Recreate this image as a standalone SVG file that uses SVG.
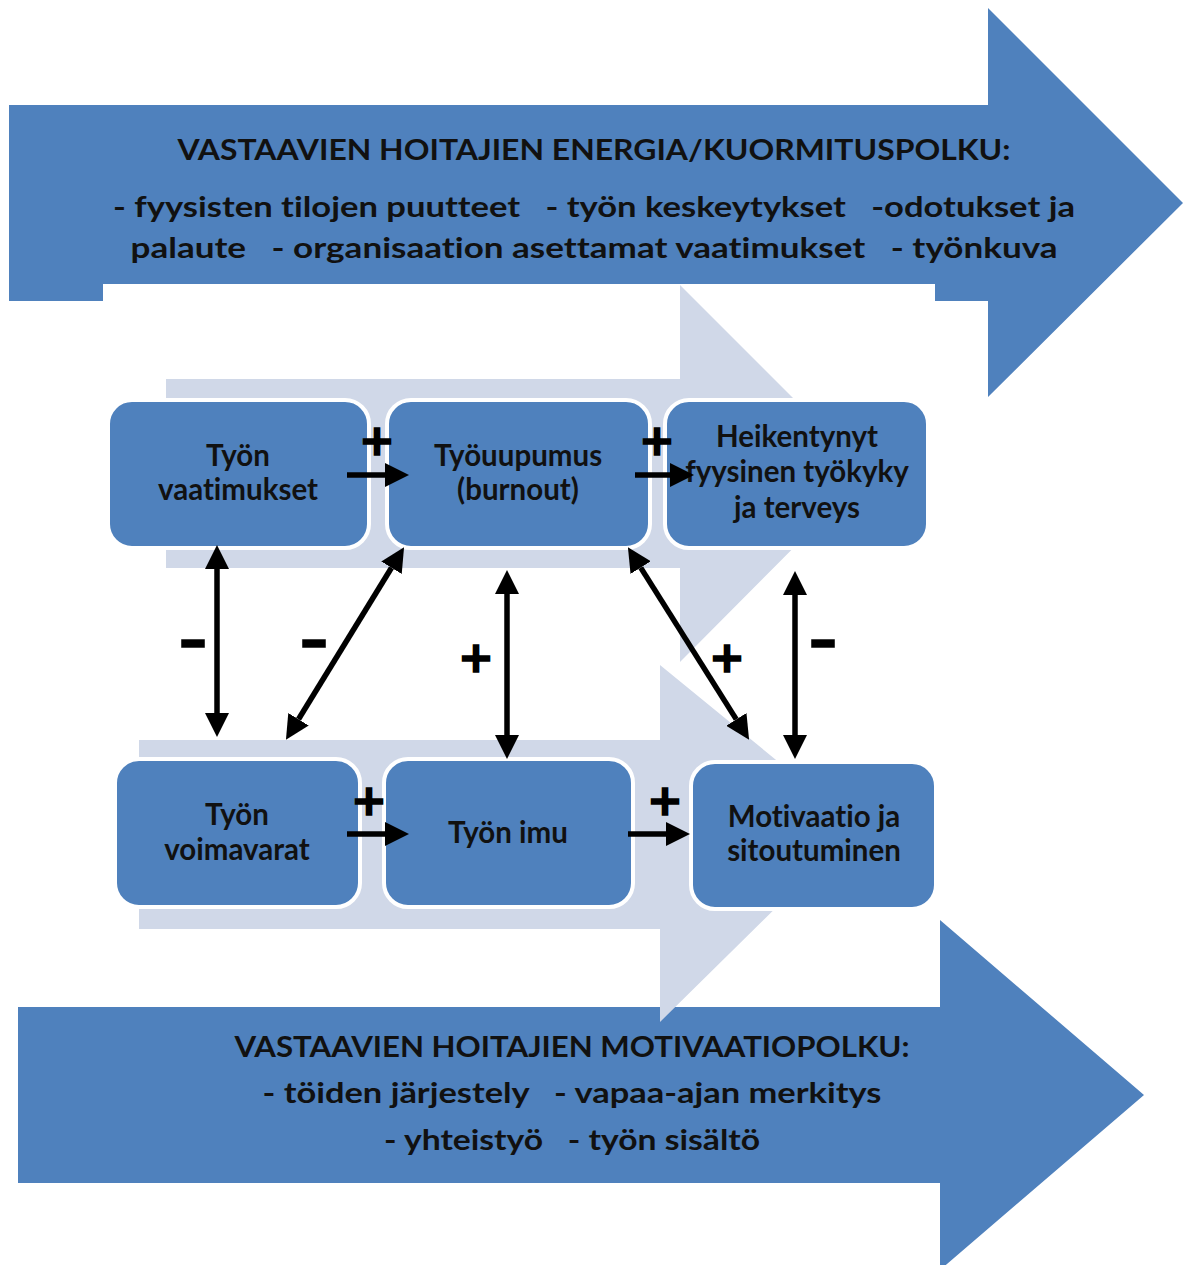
<svg xmlns="http://www.w3.org/2000/svg" width="1190" height="1265" viewBox="0 0 1190 1265">
<style>
.big{fill:#4F81BD}
.light{fill:#D0D8E8}
.node rect{fill:#4F81BD;stroke:#FFFFFF;stroke-width:4}
text{font-family:Lato,"Liberation Sans",sans-serif;font-weight:bold;fill:#111111;text-anchor:middle;white-space:pre;font-variant-ligatures:none}
.t{font-size:29px}
.n{font-size:29.5px}
.sign{font-family:"DejaVu Sans",sans-serif;fill:#000;stroke:#000;stroke-width:1.6}
.plus{font-size:43px}
.minus{font-size:56px}
.conn line{stroke:#000;stroke-width:5.5}
</style>
<defs>
<marker id="ah" markerUnits="userSpaceOnUse" markerWidth="24" markerHeight="24" refX="0" refY="12" orient="auto-start-reverse" viewBox="0 0 24 24">
<path d="M0,0 L24,12 L0,24 z" fill="#000"/>
</marker>
</defs>
<rect width="1190" height="1265" fill="#FFFFFF"/>
<g id="energia-arrow">
<polygon class="big" points="9,105 988,105 988,8 1183,203 988,397 988,301 935,301 935,284 103,284 103,301 9,301"/>
<text class="t" x="594" y="160" textLength="833" lengthAdjust="spacingAndGlyphs">VASTAAVIEN HOITAJIEN ENERGIA/KUORMITUSPOLKU:</text>
<text class="t" x="594" y="217" textLength="962" lengthAdjust="spacingAndGlyphs">- fyysisten tilojen puutteet   - työn keskeytykset   -odotukset ja</text>
<text class="t" x="594" y="258" textLength="927" lengthAdjust="spacingAndGlyphs">palaute   - organisaation asettamat vaatimukset   - työnkuva</text>
</g>
<g id="motivaatio-arrow">
<polygon class="big" points="18,1007 940,1007 940,920 1144,1095 940,1270 940,1183 18,1183"/>
<text class="t" x="572" y="1057" textLength="675" lengthAdjust="spacingAndGlyphs">VASTAAVIEN HOITAJIEN MOTIVAATIOPOLKU:</text>
<text class="t" x="572" y="1103" textLength="619" lengthAdjust="spacingAndGlyphs">- töiden järjestely   - vapaa-ajan merkitys</text>
<text class="t" x="572" y="1150" textLength="376" lengthAdjust="spacingAndGlyphs">- yhteistyö   - työn sisältö</text>
</g>
<g id="upper-process-arrow">
<polygon class="light" points="166,379 680,379 680,285 868,473 680,662 680,568 166,568"/>
</g>
<g id="lower-process-arrow">
<polygon class="light" points="139,740 660,740 660,665 858,827 660,1022 660,929 139,929"/>
</g>
<g id="tyon-vaatimukset" class="node">
<rect x="108" y="400" width="261" height="148" rx="24"/>
<text class="n" x="238" y="466">Työn</text>
<text class="n" x="238" y="500">vaatimukset</text>
</g>
<g id="tyouupumus" class="node">
<rect x="387" y="400" width="263" height="148" rx="24"/>
<text class="n" x="518" y="466">Työuupumus</text>
<text class="n" x="518" y="500">(burnout)</text>
</g>
<g id="heikentynyt" class="node">
<rect x="665" y="400" width="263" height="148" rx="24"/>
<text class="n" x="797" y="447">Heikentynyt</text>
<text class="n" x="797" y="482">fyysinen työkyky</text>
<text class="n" x="797" y="518">ja terveys</text>
</g>
<g id="tyon-voimavarat" class="node">
<rect x="115" y="759" width="245" height="148" rx="24"/>
<text class="n" x="237" y="825">Työn</text>
<text class="n" x="237" y="860">voimavarat</text>
</g>
<g id="tyon-imu" class="node">
<rect x="384" y="759" width="249" height="148" rx="24"/>
<text class="n" x="508" y="843">Työn imu</text>
</g>
<g id="motivaatio" class="node">
<rect x="691" y="762" width="245" height="147" rx="24"/>
<text class="n" x="814" y="827">Motivaatio ja</text>
<text class="n" x="814" y="861">sitoutuminen</text>
</g>
<g id="connectors" class="conn">
<line x1="347" y1="475" x2="385" y2="475" marker-end="url(#ah)"/>
<line x1="635" y1="475" x2="670" y2="475" marker-end="url(#ah)"/>
<line x1="347" y1="834" x2="385" y2="834" marker-end="url(#ah)"/>
<line x1="628" y1="834" x2="666" y2="834" marker-end="url(#ah)"/>
<line x1="217" y1="569" x2="217" y2="713" marker-start="url(#ah)" marker-end="url(#ah)"/>
<line x1="507" y1="594" x2="507" y2="735" marker-start="url(#ah)" marker-end="url(#ah)"/>
<line x1="795" y1="595" x2="795" y2="735" marker-start="url(#ah)" marker-end="url(#ah)"/>
<line x1="298.5" y1="719.3" x2="391.5" y2="567.7" marker-start="url(#ah)" marker-end="url(#ah)"/>
<line x1="640.7" y1="567.6" x2="736.3" y2="719.4" marker-start="url(#ah)" marker-end="url(#ah)"/>
</g>
<g id="signs">
<text class="sign plus" x="377" y="455">+</text>
<text class="sign plus" x="657" y="455">+</text>
<text class="sign plus" x="369" y="815">+</text>
<text class="sign plus" x="665" y="815">+</text>
<text class="sign plus" x="476" y="672">+</text>
<text class="sign plus" x="727" y="672">+</text>
<text class="sign minus" x="193" y="659">–</text>
<text class="sign minus" x="314" y="659">–</text>
<text class="sign minus" x="823" y="659">–</text>
</g>
</svg>
